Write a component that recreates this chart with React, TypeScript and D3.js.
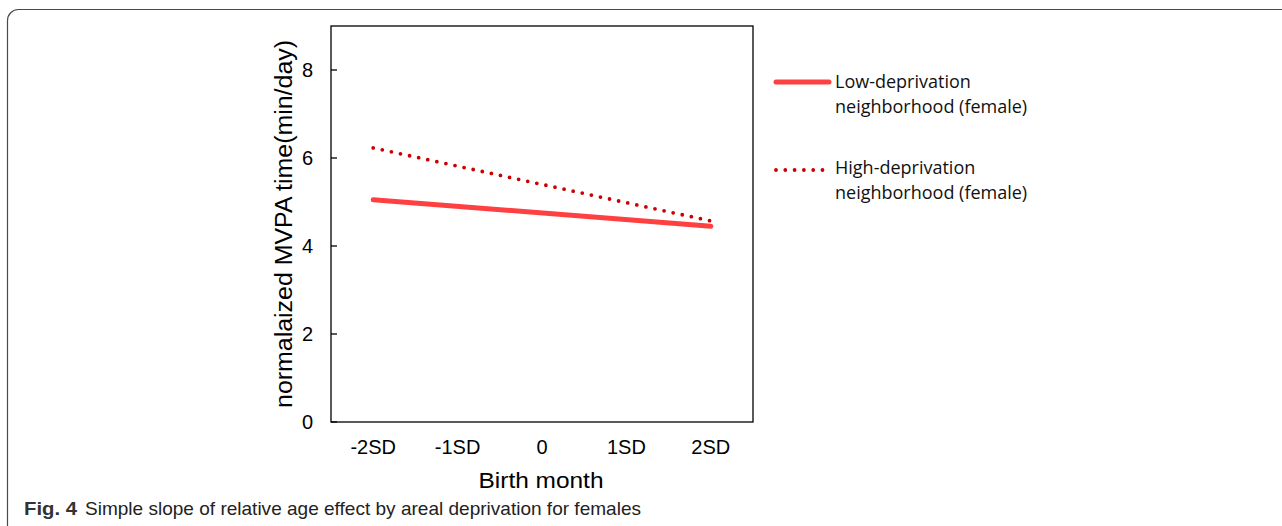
import React, { useEffect } from 'react';
import * as d3 from 'd3';

const categories = ['-2SD', '-1SD', '0', '1SD', '2SD'];
const yTicks = [0, 2, 4, 6, 8];

// simple slope end points, read at -2SD and 2SD
const lowPoints = ['-2SD', '2SD'];
const lowValues = [5.05, 4.45];
const highPoints = ['-2SD', '2SD'];
const highValues = [6.23, 4.57];

const legendLabels = [
  ['Low-deprivation', 'neighborhood (female)'],
  ['High-deprivation', 'neighborhood (female)'],
];

const W = 1282;
const H = 526;
const plot = { left: 331, top: 26, right: 753, bottom: 422 };

const App = () => {
  useEffect(() => {
    document.body.style.margin = '0';
  }, []);

  const x = d3.scaleBand().domain(categories).range([plot.left, plot.right]);
  const y = d3.scaleLinear().domain([0, 9]).range([plot.bottom, plot.top]);
  const cx = (c: string) => (x(c) || 0) + x.bandwidth() / 2;

  const line = d3.line<[string, number]>().x(d => cx(d[0])).y(d => y(d[1]));
  const lowPath = line(lowPoints.map((c, i) => [c, lowValues[i]]));
  const highPath = line(highPoints.map((c, i) => [c, highValues[i]]));

  const axisFont = '"Liberation Sans", Arial, sans-serif';
  const legFont = '"Open Sans", "Noto Sans", sans-serif';
  const capFont = '"Liberation Sans Narrow", "Liberation Sans", sans-serif';

  return (
    <svg width={W} height={H} style={{ display: 'block', background: '#fff' }}>
      {/* figure frame */}
      <rect x={7.5} y={9.5} width={W + 20} height={H + 20} rx={11} fill="none" stroke="#4a4a4a" strokeWidth={1.2} />

      {/* plot box */}
      <rect x={plot.left} y={plot.top} width={plot.right - plot.left} height={plot.bottom - plot.top}
        fill="none" stroke="#000" strokeWidth={1.3} />

      {yTicks.map(t => (
        <g key={t}>
          <line x1={plot.left} x2={plot.left + 6} y1={y(t)} y2={y(t)} stroke="#000" strokeWidth={1.3} />
          <text x={313} y={y(t)} dy="0.36em" textAnchor="end" fontFamily={axisFont} fontSize={20}>{t}</text>
        </g>
      ))}

      {categories.map(c => (
        <text key={c} x={cx(c)} y={447} dy="0.36em" textAnchor="middle" fontFamily={axisFont} fontSize={20}>{c}</text>
      ))}

      <text x={541} y={480} dy="0.36em" textAnchor="middle" fontFamily={axisFont} fontSize={22}
        textLength={125} lengthAdjust="spacingAndGlyphs">Birth month</text>
      <text transform={`translate(284,224) rotate(-90)`} dy="0.36em"
        textAnchor="middle" fontFamily={axisFont} fontSize={23}
        textLength={368} lengthAdjust="spacingAndGlyphs">normalaized MVPA time(min/day)</text>

      {/* series */}
      <path d={lowPath || ''} fill="none" stroke="#ff4040" strokeWidth={5} strokeLinecap="round" />
      <path d={highPath || ''} fill="none" stroke="#cc0000" strokeWidth={3.8} strokeLinecap="round" strokeDasharray="0 9.3" />

      {/* legend */}
      <line x1={776} x2={829} y1={82} y2={82} stroke="#ff4040" strokeWidth={5} strokeLinecap="round" />
      <line x1={776} x2={826} y1={170} y2={170} stroke="#cc0000" strokeWidth={3.8} strokeLinecap="round" strokeDasharray="0 9.3" />
      {legendLabels.map((lines, i) => (
        <text key={i} x={835} y={i === 0 ? 82 : 168} fontFamily={legFont} fontSize={18} fill="#111">
          {lines.map((s, j) => (
            <tspan key={j} x={835} dy={j === 0 ? '0.35em' : 25}>{s}</tspan>
          ))}
        </text>
      ))}

      {/* caption */}
      <text x={24} y={515} fontFamily={capFont} fontSize={19} fontWeight="bold" fill="#333"
        textLength={53} lengthAdjust="spacingAndGlyphs">Fig. 4</text>
      <text x={85} y={515} fontFamily={capFont} fontSize={19} fill="#222"
        textLength={556} lengthAdjust="spacingAndGlyphs">Simple slope of relative age effect by areal deprivation for females</text>
    </svg>
  );
};

export default App;
